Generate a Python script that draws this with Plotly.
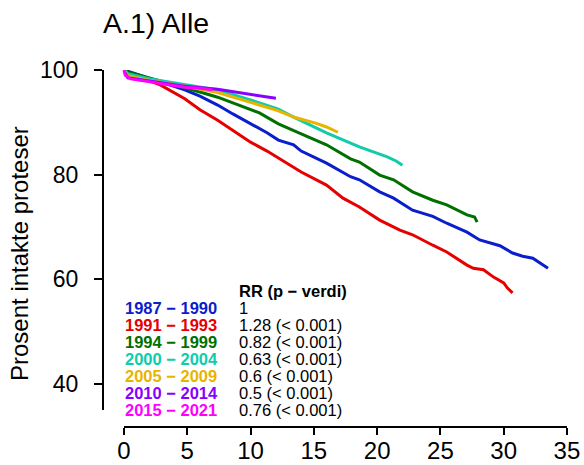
import plotly.graph_objects as go

# ---- data ----
periods = ["1987 − 1990", "1991 − 1993", "1994 − 1999", "2000 − 2004",
           "2005 − 2009", "2010 − 2014", "2015 − 2021"]
rr_labels = ["1", "1.28 (< 0.001)", "0.82 (< 0.001)", "0.63 (< 0.001)",
             "0.6 (< 0.001)", "0.5 (< 0.001)", "0.76 (< 0.001)"]
colors = ["#0A1ECC", "#E60000", "#007000", "#10CCAA", "#E8B400", "#8A00FF", "#FF00FF"]

x_8790 = [0, 0.5, 2, 3, 4.8, 6, 7.4, 8.6, 10, 11.3, 12.2, 13.4, 14, 16, 17.9, 18.6,
          20.2, 21.3, 22.8, 24.4, 25.5, 27.1, 28.1, 29.7, 30.7, 31.5, 32.3, 32.9, 33.5]
y_8790 = [100, 99.6, 98.5, 97.6, 96.2, 95.0, 93.3, 91.6, 89.7, 88.0, 86.6, 85.7, 84.5,
          82.2, 79.6, 79.0, 76.7, 75.5, 73.2, 72.0, 70.7, 69.0, 67.5, 66.4, 65.0, 64.4,
          64.0, 63.1, 62.1]

x_9193 = [0, 0.5, 1.5, 2.9, 4.8, 6, 7.4, 8.6, 10, 11.3, 13.4, 14, 16, 17.3, 18.6, 20.2,
          21.8, 22.8, 24.4, 25.5, 27.1, 27.6, 28.4, 29.2, 30.0, 30.3, 30.7]
y_9193 = [100, 99.4, 98.4, 97.1, 94.5, 92.4, 90.4, 88.5, 86.2, 84.5, 81.5, 80.5, 78.0,
          75.5, 73.8, 71.3, 69.4, 68.5, 66.5, 65.2, 62.7, 62.1, 61.8, 60.4, 59.3, 58.3, 57.4]

x_9499 = [0, 0.5, 2, 4, 6, 7.4, 8.6, 10, 10.7, 12.2, 13.4, 14, 16, 17.9, 18.6, 20.2,
          21.3, 22.8, 24.4, 25.5, 27.1, 27.7, 27.9]
y_9499 = [100, 99.5, 98.5, 97.2, 95.8, 94.8, 93.7, 92.5, 91.8, 89.7, 88.5, 87.8, 85.7,
          83.0, 82.4, 79.9, 79.0, 76.7, 75.1, 74.2, 72.3, 71.9, 70.9]

x_0004 = [0, 0.3, 2.1, 4.8, 7.4, 10, 10.7, 12.2, 13.4, 16, 18.6, 20.8, 21.5, 22]
y_0004 = [100, 99.3, 98.3, 97.3, 96.2, 94.3, 93.7, 92.5, 91.0, 88.0, 85.3, 83.4, 82.6, 81.8]

x_0509 = [0, 0.3, 2, 4.8, 7.4, 10, 10.7, 12.2, 13.4, 15.2, 16, 16.9]
y_0509 = [100, 98.9, 98.0, 96.9, 95.7, 93.9, 93.3, 92.2, 91.0, 89.8, 89.1, 88.1]

x_1014 = [0, 0.3, 2, 4.8, 7.4, 10, 11, 12]
y_1014 = [99.8, 98.5, 97.9, 96.9, 96.3, 95.4, 95.0, 94.6]

x_1521 = [0, 0.1, 0.55, 2.1, 4.8, 6, 7]
y_1521 = [100, 99.0, 98.3, 97.7, 96.7, 96.5, 96.2]

xs = [x_8790, x_9193, x_9499, x_0004, x_0509, x_1014, x_1521]
ys = [y_8790, y_9193, y_9499, y_0004, y_0509, y_1014, y_1521]

x_ticks = [0, 5, 10, 15, 20, 25, 30, 35]
y_ticks = [40, 60, 80, 100]

# ---- layout geometry ----
W, H = 584, 465
ML, MR, MT, MB = 103, 4, 70, 38
FONT = "Liberation Sans, Arial, Helvetica, sans-serif"


def px_to_paper_x(px):
    return (px - ML) / (W - ML - MR)


def px_to_paper_y(py):
    return (H - MB - py) / (H - MT - MB)


fig = go.Figure()
for name, x, y, c in zip(periods, xs, ys, colors):
    fig.add_trace(go.Scatter(x=x, y=y, mode="lines", name=name,
                             line=dict(color=c, width=3), cliponaxis=False,
                             showlegend=False))

fig.update_layout(
    width=W, height=H,
    margin=dict(l=ML, r=MR, t=MT, b=MB, autoexpand=False),
    paper_bgcolor="white", plot_bgcolor="white",
    font=dict(family=FONT, color="black"),
    xaxis=dict(range=[-1.66, 36.03], tickvals=x_ticks, ticks="outside", ticklen=7,
               tickwidth=2, tickcolor="black", showgrid=False, zeroline=False,
               showline=False, tickfont=dict(size=24), ticklabelstandoff=-5,
               automargin=False),
    yaxis=dict(range=[31.74, 100], tickvals=y_ticks, ticks="outside", ticklen=8,
               tickwidth=2, tickcolor="black", showgrid=False, zeroline=False,
               showline=False, tickfont=dict(size=23), ticklabelstandoff=11,
               automargin=False),
)

# axis lines (R style: spanning the tick range)
fig.add_shape(type="line", xref="x", yref="paper", x0=x_ticks[0], x1=x_ticks[-1],
              y0=0, y1=0, line=dict(color="black", width=2))
fig.add_shape(type="line", xref="paper", yref="y", x0=0, x1=0, y0=35, y1=y_ticks[-1],
              line=dict(color="black", width=2))

# title
fig.add_annotation(text="A.1) Alle", xref="paper", yref="paper",
                   x=px_to_paper_x(101), y=px_to_paper_y(23), xanchor="left",
                   yanchor="middle", showarrow=False, font=dict(size=28.5))
# y-axis title
fig.add_annotation(text="Prosent intakte proteser", xref="paper", yref="paper",
                   x=px_to_paper_x(20), y=px_to_paper_y(254), xanchor="center",
                   yanchor="middle", textangle=-90, showarrow=False,
                   font=dict(size=24))

# legend table
fig.add_annotation(text="<b>RR (p − verdi)</b>", xref="paper", yref="paper",
                   x=px_to_paper_x(237), y=px_to_paper_y(291), xanchor="left",
                   yanchor="middle", showarrow=False, font=dict(size=16.5))
for i, (name, rr, c) in enumerate(zip(periods, rr_labels, colors)):
    ypx = 308 + 17 * i
    fig.add_annotation(text=f"<b>{name}</b>", xref="paper", yref="paper",
                       x=px_to_paper_x(123), y=px_to_paper_y(ypx), xanchor="left",
                       yanchor="middle", showarrow=False,
                       font=dict(size=16.5, color=c))
    fig.add_annotation(text=rr, xref="paper", yref="paper",
                       x=px_to_paper_x(237), y=px_to_paper_y(ypx), xanchor="left",
                       yanchor="middle", showarrow=False, font=dict(size=16.5))

fig.write_html("out.html", config={"displayModeBar": False},
               post_script="document.body.style.margin='0';document.body.style.padding='0';")
